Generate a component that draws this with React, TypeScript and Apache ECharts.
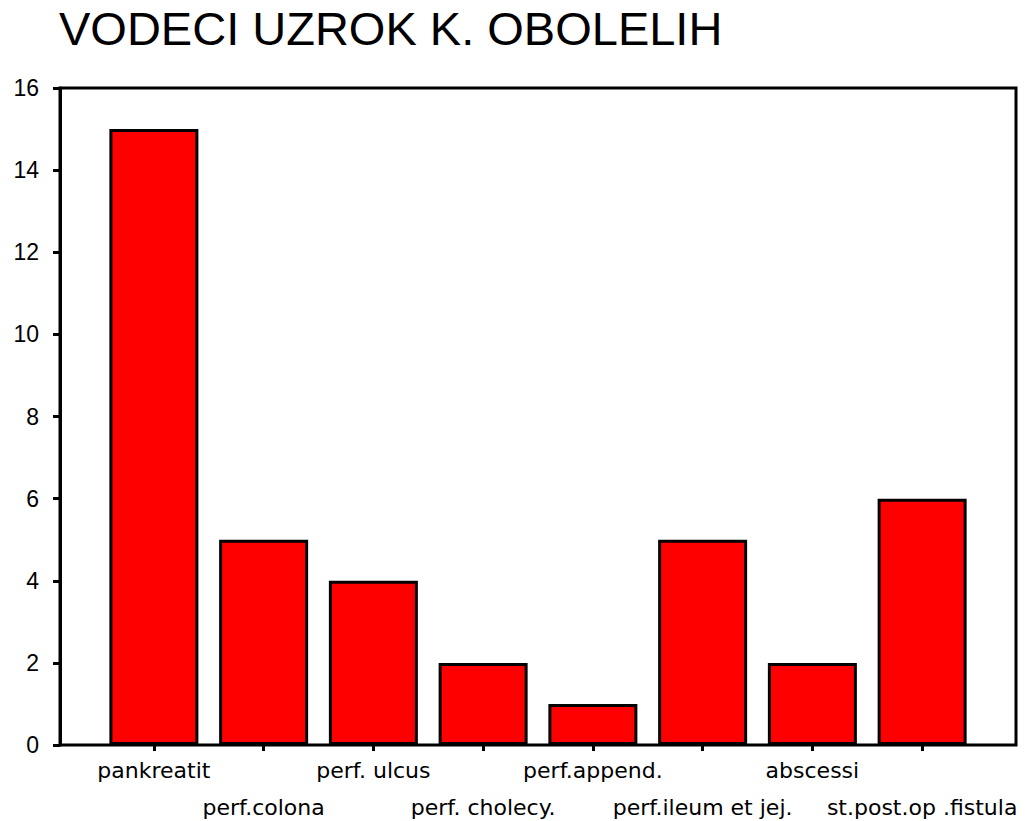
import React, { useEffect, useRef } from "react";
import * as echarts from "echarts";

const categories = [
  "pankreatit",
  "perf.colona",
  "perf. ulcus",
  "perf. cholecy.",
  "perf.append.",
  "perf.ileum et jej.",
  "abscessi",
  "st.post.op .fistula",
];
const counts = [15, 5, 4, 2, 1, 5, 2, 6];
const yTicks = [0, 2, 4, 6, 8, 10, 12, 14, 16];
const titleText = "VODECI UZROK K. OBOLELIH";

export default function App() {
  const ref = useRef<HTMLDivElement>(null);
  useEffect(() => {
    if (!ref.current) return;
    const chart = echarts.init(ref.current, null, { renderer: "svg" });
    const yMin = yTicks[0];
    const yMax = yTicks[yTicks.length - 1];
    const yInterval = yTicks[1] - yTicks[0];
    chart.setOption({
      animation: false,
      backgroundColor: "#ffffff",
      title: {
        text: titleText,
        left: 54,
        top: 0,
        textStyle: {
          fontFamily: "Liberation Sans",
          fontSize: 47,
          fontWeight: "normal",
          color: "#000",
        },
      },
      grid: [
        {
          left: 60,
          right: 13,
          top: 88,
          bottom: 76,
          show: true,
          borderColor: "#000",
          borderWidth: 3,
          backgroundColor: "transparent",
          outerBoundsMode: "none",
        },
        { left: 99, right: 52, top: 88, bottom: 76, outerBoundsMode: "none" },
      ],
      xAxis: [
        { type: "value", gridIndex: 0, show: false, min: 0, max: 1 },
        {
          type: "category",
          gridIndex: 1,
          data: categories,
          axisLine: { show: false },
          axisTick: {
            show: true,
            alignWithLabel: true,
            length: 6,
            lineStyle: { color: "#000", width: 3 },
          },
          axisLabel: {
            interval: 0,
            margin: 7,
            fontFamily: "DejaVu Sans",
            fontSize: 22,
            lineHeight: 37,
            color: "#000",
            formatter: (v: string, i: number) => (i % 2 === 1 ? "\n" + v : v),
          },
        },
      ],
      yAxis: [
        {
          type: "value",
          gridIndex: 0,
          min: yMin,
          max: yMax,
          interval: yInterval,
          splitLine: { show: false },
          axisLine: { show: true, lineStyle: { color: "#000", width: 3 } },
          axisTick: { show: true, length: 7, lineStyle: { color: "#000", width: 3 } },
          axisLabel: {
            margin: 21,
            fontFamily: "Liberation Sans",
            fontSize: 23,
            color: "#000",
          },
        },
        {
          type: "value",
          gridIndex: 1,
          min: yMin,
          max: yMax,
          interval: yInterval,
          show: false,
        },
      ],
      series: [
        {
          type: "bar",
          xAxisIndex: 1,
          yAxisIndex: 1,
          data: counts,
          barWidth: 89,
          itemStyle: {
            color: "#ff0000",
            borderColor: "#000",
            borderWidth: 3,
          },
        },
      ],
    });
    return () => chart.dispose();
  }, []);
  return (
    <div
      ref={ref}
      style={{ position: "fixed", left: 0, top: 0, width: 1029, height: 821 }}
    />
  );
}
